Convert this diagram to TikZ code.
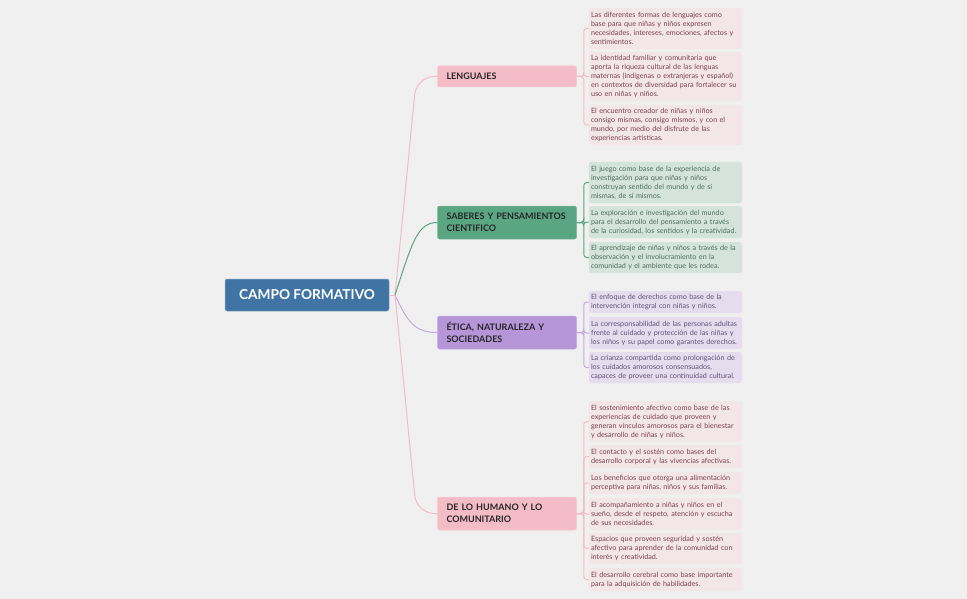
\documentclass[tikz,border=0pt]{standalone}
\usepackage{fontspec}
\setmainfont{Lato}
\definecolor{fondo}{HTML}{F0F0F0}
\definecolor{azul}{HTML}{3F74A5}
\definecolor{rosa}{HTML}{F4BCC7}
\definecolor{verde}{HTML}{5AA683}
\definecolor{lila}{HTML}{B695D9}
\definecolor{rosaclaro}{HTML}{F2E6E9}
\definecolor{verdeclaro}{HTML}{D4E4DD}
\definecolor{lilaclaro}{HTML}{E5DDEE}
\definecolor{textorosa}{HTML}{80404F}
\definecolor{textoverde}{HTML}{4C6E5E}
\definecolor{textolila}{HTML}{62507E}
\tikzset{
	raiz/.style={rectangle, rounded corners=2pt, fill=azul, draw=azul!60!white, line width=0.5pt, text=white,
		minimum width=164pt, minimum height=32pt, font=\fontsize{13.7}{16}\selectfont\bfseries},
	rama/.style={rectangle, rounded corners=2pt, fill=#1, draw=#1!80!white, line width=0.5pt, text=black!85,
		minimum width=139pt, text width=121pt, inner xsep=9pt, inner ysep=0pt, align=left,
		font=\fontsize{9}{12}\selectfont\bfseries},
	hoja/.style={rectangle, rounded corners=2.5pt, fill=#1, minimum width=153pt, text width=149pt,
		inner xsep=2pt, inner ysep=0pt, align=left, font=\fontsize{7.22}{9}\selectfont},
	hojarosa/.style={hoja=rosaclaro, text=textorosa},
	hojaverde/.style={hoja=verdeclaro, text=textoverde},
	hojalila/.style={hoja=lilaclaro, text=textolila},
	linea/.style={line width=1pt, rounded corners=3pt, color=#1},
}
\begin{document}
\begin{tikzpicture}[x=1pt, y=-1pt]
	\fill[fondo] (0, 0) rectangle (967, 599);
	\useasboundingbox (0, 0) rectangle (967, 599);

	\node[raiz] (campo) at (307, 295) {CAMPO FORMATIVO};
	\coordinate (eje) at (395, 295);

	\node[rama=rosa, minimum height=21pt] (lenguajes) at (507, 76.5) {LENGUAJES};
	\node[rama=verde, minimum height=33pt] (saberes) at (507, 222.5) {SABERES Y PENSAMIENTOS\\CIENTIFICO};
	\node[rama=lila, minimum height=33pt] (etica) at (507, 332.5) {ÉTICA, NATURALEZA Y\\SOCIEDADES};
	\node[rama=rosa, minimum height=33pt] (humano) at (507, 513.5) {DE LO HUMANO Y LO\\COMUNITARIO};

	% lenguajes
	\node[hojarosa, minimum height=41pt] (len1) at (665.5, 28.5) {Las diferentes formas de lenguajes como\\base para que niñas y niños expresen\\necesidades, intereses, emociones, afectos y\\sentimientos.};
	\node[hojarosa, minimum height=49pt] (len2) at (665.5, 76.5) {La identidad familiar y comunitaria que\\aporta la riqueza cultural de las lenguas\\maternas (indígenas o extranjeras y español)\\en contextos de diversidad para fortalecer su\\uso en niñas y niños.};
	\node[hojarosa, minimum height=40pt] (len3) at (665.5, 125) {El encuentro creador de niñas y niños\\consigo mismas, consigo mismos, y con el\\mundo, por medio del disfrute de las\\experiencias artísticas.};

	% saberes
	\node[hojaverde, minimum height=41pt] (sab1) at (665.5, 182.5) {El juego como base de la experiencia de\\investigación para que niñas y niños\\construyan sentido del mundo y de sí\\mismas, de sí mismos.};
	\node[hojaverde, minimum height=32pt] (sab2) at (665.5, 222) {La exploración e investigación del mundo\\para el desarrollo del pensamiento a través\\de la curiosidad, los sentidos y la creatividad.};
	\node[hojaverde, minimum height=31pt] (sab3) at (665.5, 257.5) {El aprendizaje de niñas y niños a través de la\\observación y el involucramiento en la\\comunidad y el ambiente que les rodea.};

	% etica
	\node[hojalila, minimum height=22pt] (eti1) at (665.5, 302) {El enfoque de derechos como base de la\\intervención integral con niñas y niños.};
	\node[hojalila, minimum height=32pt] (eti2) at (665.5, 333) {La corresponsabilidad de las personas adultas\\frente al cuidado y protección de las niñas y\\los niños y su papel como garantes derechos.};
	\node[hojalila, minimum height=31pt] (eti3) at (665.5, 367.5) {La crianza compartida como prolongación de\\los cuidados amorosos consensuados,\\capaces de proveer una continuidad cultural.};

	% humano
	\node[hojarosa, minimum height=41pt] (hum1) at (665.5, 421.5) {El sostenimiento afectivo como base de las\\experiencias de cuidado que proveen y\\generan vínculos amorosos para el bienestar\\y desarrollo de niñas y niños.};
	\node[hojarosa, minimum height=23pt] (hum2) at (665.5, 456.5) {El contacto y el sostén como bases del\\desarrollo corporal y las vivencias afectivas.};
	\node[hojarosa, minimum height=22pt] (hum3) at (665.5, 483) {Los beneficios que otorga una alimentación\\perceptiva para niñas, niños y sus familias.};
	\node[hojarosa, minimum height=32pt] (hum4) at (665.5, 514) {El acompañamiento a niñas y niños en el\\sueño, desde el respeto, atención y escucha\\de sus necesidades.};
	\node[hojarosa, minimum height=31pt] (hum5) at (665.5, 548.5) {Espacios que proveen seguridad y sostén\\afectivo para aprender de la comunidad con\\interés y creatividad.};
	\node[hojarosa, minimum height=23pt] (hum6) at (665.5, 579.5) {El desarrollo cerebral como base importante\\para la adquisición de habilidades.};

	\draw[linea=rosa] (campo.east) -- (eje);
	\draw[linea=rosa, rounded corners=18pt] (eje) -- ++(21.5, -218.5) -- (lenguajes.west);
	\draw[linea=verde] (eje) .. controls +(17, -52) and +(-20, 0) .. (saberes.west);
	\draw[linea=lila!80!white] (eje) .. controls +(13, 28) and +(-22, 0) .. (etica.west);
	\draw[linea=rosa, rounded corners=18pt] (eje) -- ++(21.5, 218.5) -- (humano.west);

	\foreach \hoja in {len1, len2, len3} {
		\draw[linea=rosa] (lenguajes.east) -- ++(7, 0) |- (\hoja.west);
	}
	\foreach \hoja in {sab1, sab2, sab3} {
		\draw[linea=verde] (saberes.east) -- ++(7, 0) |- (\hoja.west);
	}
	\foreach \hoja in {eti1, eti2, eti3} {
		\draw[linea=lila!80!white] (etica.east) -- ++(7, 0) |- (\hoja.west);
	}
	\foreach \hoja in {hum1, hum2, hum3, hum4, hum5, hum6} {
		\draw[linea=rosa] (humano.east) -- ++(7, 0) |- (\hoja.west);
	}
\end{tikzpicture}
\end{document}
